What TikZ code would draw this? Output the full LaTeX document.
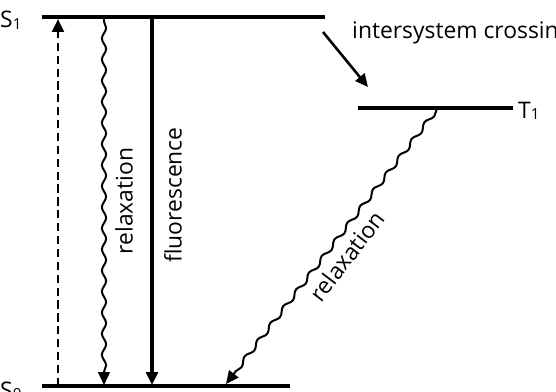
\documentclass[tikz,border=0pt]{standalone}
\usepackage{fontspec}
\setmainfont{Open Sans}
\usetikzlibrary{arrows.meta,decorations.pathmorphing}
\begin{document}
\begin{tikzpicture}[x=0.03cm,y=-0.03cm,every node/.style={font=\fontsize{19.5}{22}\selectfont,inner sep=0pt},
level/.style={line width=2.8pt},
tip/.style={-{Triangle[length=11pt,width=10pt]}},
wavy/.style={line width=1.7pt,tip,decorate,decoration={snake,segment length=18pt,amplitude=1.8pt,pre length=2pt,post length=11pt}}]
\useasboundingbox (0,0) rectangle (556,392);
% energy levels
\coordinate (s1a) at (42,17); \coordinate (s1b) at (325,17);
\coordinate (t1a) at (358,108); \coordinate (t1b) at (513,108);
\coordinate (s0a) at (42,386); \coordinate (s0b) at (290,386);
\draw[level] (s1a)--(s1b); \draw[level] (t1a)--(t1b); \draw[level] (s0a)--(s0b);
\node[anchor=base west] (S1) at (0,28) {S\raisebox{-0.1ex}{\fontsize{13}{14}\selectfont 1}};
\node[anchor=base west] (T1) at (518,118) {T\raisebox{-0.1ex}{\fontsize{13}{14}\selectfont 1}};
\node[anchor=base west] (S0) at (0,398) {S\raisebox{-0.1ex}{\fontsize{13}{14}\selectfont 0}};
% transitions
\coordinate (absa) at (58,386); \coordinate (absb) at (58,19);
\draw[tip,line width=2.4pt,dash pattern=on 7pt off 4pt] (absa)--(absb);
\coordinate (vr1a) at (104,19); \coordinate (vr1b) at (104,385);
\draw[wavy] (vr1a)--(vr1b);
\node[rotate=90] (rlx1) at (124,201) {relaxation};
\coordinate (fla) at (152,17); \coordinate (flb) at (152,385);
\draw[tip,line width=2.6pt] (fla)--(flb);
\node[rotate=90] (flu) at (173,195) {fluorescence};
\coordinate (isca) at (323,32); \coordinate (iscb) at (368,87);
\draw[tip,line width=2.2pt] (isca)--(iscb);
\node[anchor=base west] (isc) at (352,38) {intersystem crossing};
\coordinate (vr2a) at (438,108); \coordinate (vr2b) at (226,384);
\draw[wavy] (vr2a)--(vr2b);
\node[rotate=52.5] (rlx2) at (347,256) {relaxation};
\end{tikzpicture}
\end{document}
